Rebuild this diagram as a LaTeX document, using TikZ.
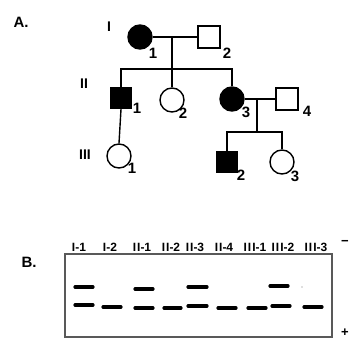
\documentclass[tikz,border=0pt]{standalone}
\usepackage{fontspec}
\setmainfont{Liberation Sans}
\begin{document}
\begin{tikzpicture}[x=1pt,y=-1pt,
  line width=1.4pt,
  femaff/.style={circle,draw=black,fill=black,minimum size=24pt,inner sep=0pt},
  femun/.style={circle,draw=black,fill=white,minimum size=24pt,inner sep=0pt},
  maleaff/.style={rectangle,draw=black,fill=black,minimum size=21pt,inner sep=0pt},
  maleun/.style={rectangle,draw=black,fill=white,minimum size=22pt,inner sep=0pt},
  idlabel/.style={font=\fontsize{15}{15}\selectfont\bfseries,inner sep=0pt},
  genlabel/.style={font=\fontsize{14}{14}\selectfont\bfseries,inner sep=0pt},
  panel/.style={font=\fontsize{15}{15}\selectfont\bfseries,inner sep=0pt},
  lane/.style={font=\fontsize{12}{12}\selectfont\bfseries,inner sep=0pt},
  polarity/.style={font=\fontsize{13}{13}\selectfont\bfseries,inner sep=0pt},
  band/.style={line width=3.2pt,line cap=round},
  gel/.style={draw=black!65,line width=1.4pt}]
\useasboundingbox (0,0) rectangle (351,340);

% ---------- Part A: pedigree ----------
\node[panel] (pa) at (21,22) {A.};
\node[genlabel] (g1) at (109,27) {I};
\node[genlabel] (g2) at (84,84) {II};
\node[genlabel] (g3) at (85,155) {III};

% generation I
\node[femaff] (i1) at (140,37) {};
\node[maleun] (i2) at (209,37) {};
% generation II
\node[maleaff] (ii1) at (121,98) {};
\node[femun] (ii2) at (172,100) {};
\node[femaff] (ii3) at (232,99) {};
\node[maleun] (ii4) at (287,99) {};
% generation III
\node[femun] (iii1) at (119,156) {};
\node[maleaff] (iii2) at (227,162) {};
\node[femun] (iii3) at (282,162) {};

% individual numbers
\node[idlabel] (l11) at (153,53) {1};
\node[idlabel] (l12) at (227,53) {2};
\node[idlabel] (l21) at (137,108) {1};
\node[idlabel] (l22) at (183,113) {2};
\node[idlabel] (l23) at (246,112) {3};
\node[idlabel] (l24) at (307,111) {4};
\node[idlabel] (l31) at (132,168) {1};
\node[idlabel] (l32) at (241,175) {2};
\node[idlabel] (l33) at (295,176) {3};

% matings and sibships
\coordinate (m1) at (172,37);
\coordinate (s1) at (172,69);
\draw (i1.east) -- (i2.west);
\draw (m1) -- (s1);
\draw (ii1.north) -- (ii1.north |- s1) -- (ii3.north |- s1) -- (ii3.north);
\draw (s1) -- (ii2.north);
\draw (ii1.south) -- (iii1.north);

\coordinate (m2) at (257,99);
\coordinate (s2) at (257,132);
\draw (ii3.east) -- (ii4.west);
\draw (m2) -- (s2);
\draw (iii2.north) -- (iii2.north |- s2) -- (iii3.north |- s2) -- (iii3.north);

% ---------- Part B: gel ----------
\node[panel] (pb) at (29,262) {B.};
\draw[gel] (65,254) rectangle (332,337);

\node[lane] (la1) at (79,247) {I-1};
\node[lane] (la2) at (110,247) {I-2};
\node[lane] (la3) at (142,247) {I\kern1ptI-1};
\node[lane] (la4) at (171,247) {I\kern1ptI-2};
\node[lane] (la5) at (195,247) {I\kern1ptI-3};
\node[lane] (la6) at (224,247) {I\kern1ptI-4};
\node[lane] (la7) at (255,247) {I\kern1ptI\kern1ptI-1};
\node[lane] (la8) at (283,247) {I\kern1ptI\kern1ptI-2};
\node[lane] (la9) at (316,247) {I\kern1ptI\kern1ptI-3};

% polarity marks
\node[polarity] (neg) at (345,243) {−};
\node[polarity] (pos) at (345,333) {+};

% upper bands
\draw[band] (75,287) -- (93,287);
\draw[band] (135,289) -- (153,289);
\draw[band] (188,287) -- (207,287);
\draw[band] (270,286) -- (288,286);
\fill[black!25] (302,287) circle (0.8);
% lower bands
\draw[band] (75,305) -- (93,305);
\draw[band] (103,307) -- (121,307);
\draw[band] (135,308) -- (153,308);
\draw[band] (164,308) -- (181,308);
\draw[band] (188,306) -- (207,306);
\draw[band] (218,308) -- (236,308);
\draw[band] (248,308) -- (266,308);
\draw[band] (272,306) -- (290,306);
\draw[band] (304,307) -- (322,307);
\end{tikzpicture}
\end{document}
